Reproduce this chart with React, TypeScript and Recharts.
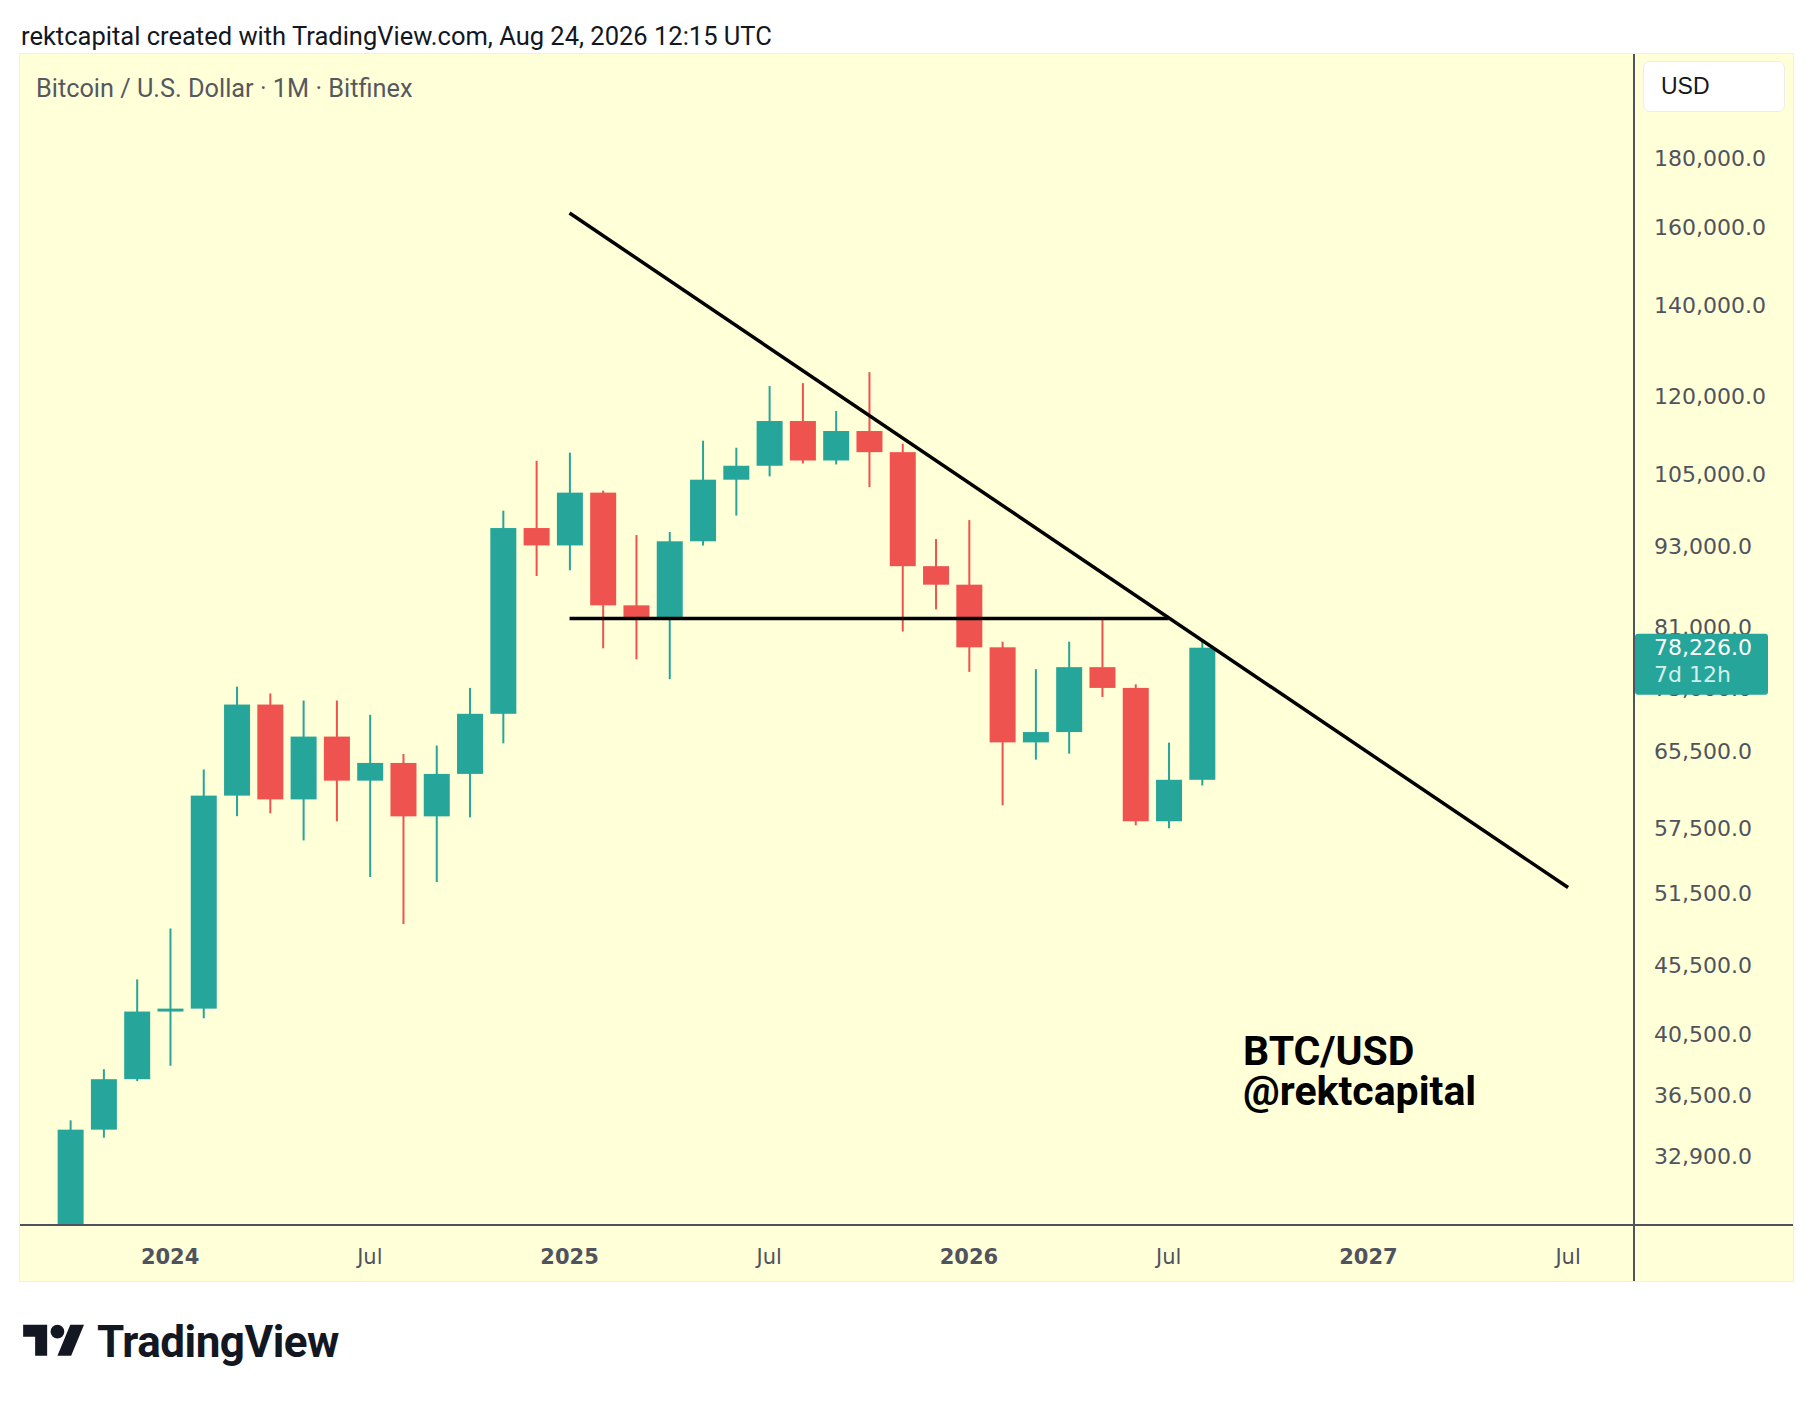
import React from 'react';
import { ComposedChart, Bar, XAxis, YAxis, ReferenceLine } from 'recharts';

// monthly candles, Oct 2023 .. Aug 2026 (Bitfinex BTC/USD)
const months = [
  'Oct 2023', 'Nov 2023', 'Dec 2023', 'Jan 2024', 'Feb 2024', 'Mar 2024', 'Apr 2024', 'May 2024',
  'Jun 2024', 'Jul 2024', 'Aug 2024', 'Sep 2024', 'Oct 2024', 'Nov 2024', 'Dec 2024', 'Jan 2025',
  'Feb 2025', 'Mar 2025', 'Apr 2025', 'May 2025', 'Jun 2025', 'Jul 2025', 'Aug 2025', 'Sep 2025',
  'Oct 2025', 'Nov 2025', 'Dec 2025', 'Jan 2026', 'Feb 2026', 'Mar 2026', 'Apr 2026', 'May 2026',
  'Jun 2026', 'Jul 2026', 'Aug 2026',
];
const opens = [
  26960, 34430, 37520, 42100, 42310, 60810, 71010, 60420, 67240, 62380, 64290, 58700,
  63100, 69900, 95910, 93110, 101870, 84080, 82080, 93770, 104140, 106640, 115080, 107600,
  113140, 109140, 89880, 87090, 78280, 66580, 67760, 75680, 73050, 58210, 62470,
];
const highs = [
  34980, 38160, 44470, 48500, 63580, 73210, 72360, 71500, 71500, 69780, 65270, 66220,
  73050, 98790, 107540, 109050, 102220, 94770, 95260, 111290, 109960, 122140, 122760, 117050,
  125070, 110730, 94130, 97220, 79030, 75420, 79030, 82340, 73500, 66550, 79200,
];
const lows = [
  26530, 33960, 37400, 38390, 41620, 58720, 59000, 56340, 58200, 52940, 48860, 52490,
  58600, 66470, 88390, 89250, 78150, 76700, 74150, 93100, 97970, 104730, 107060, 106880,
  102820, 80410, 83500, 75070, 59810, 64650, 65310, 71930, 57810, 57520, 61870,
];
const closes = [
  34430, 37520, 42100, 42310, 60810, 71010, 60420, 67240, 62380, 64290, 58700, 63100,
  69900, 95910, 93110, 101870, 84080, 82080, 93770, 104140, 106640, 115080, 107600, 113140,
  109140, 89880, 87090, 78280, 66580, 67760, 75680, 73050, 58210, 62470, 78226,
];

const yTicks = [32900, 36500, 40500, 45500, 51500, 57500, 65500, 73000, 81000, 93000, 105000, 120000, 140000, 160000, 180000];
// month index from Oct 2023
const xTicks = [3, 9, 15, 21, 27, 33, 39, 45];
const xTickLabels = ['2024', 'Jul', '2025', 'Jul', '2026', 'Jul', '2027', 'Jul'];

// drawn lines: [month index, price]
const trendLine = [{ x: 15, y: 164000 }, { x: 45, y: 52000 }];
const supportLine = [{ x: 15, y: 82200 }, { x: 33, y: 82200 }];
const lastPrice = 78226;
const countdown = '7d 12h';

const GREEN = '#26A69A';
const RED = '#EF5350';
const AXIS = '#50535E';
const BG = '#FFFFD8';

const data = months.map((m, i) => ({
  t: i,
  month: m,
  open: opens[i],
  high: highs[i],
  low: lows[i],
  close: closes[i],
  range: [lows[i], highs[i]],
}));

const fmtPrice = (v: number) => v.toLocaleString('en-US', { minimumFractionDigits: 1, maximumFractionDigits: 1 });

const Candle = (props: any) => {
  const { x, y, width, height, payload } = props;
  if (!payload || !isFinite(y) || !isFinite(height)) return null;
  const { open, close, high, low } = payload;
  const top = Math.min(y, y + height);
  const h = Math.abs(height);
  const span = Math.log(high) - Math.log(low);
  const py = (v: number) => top + (h * (Math.log(high) - Math.log(v))) / span;
  const up = close >= open;
  const color = up ? GREEN : RED;
  const bTop = py(Math.max(open, close));
  const bBot = py(Math.min(open, close));
  const cx = x + width / 2;
  return (
    <g>
      <rect x={cx - 1} y={top} width={2} height={h} fill={color} />
      <rect x={x} y={bTop} width={width} height={Math.max(bBot - bTop, 2)} fill={color} />
    </g>
  );
};

const XTick = (props: any) => {
  const { x, y, payload } = props;
  const i = xTicks.indexOf(payload.value);
  const label = xTickLabels[i];
  const isYear = label !== 'Jul';
  return (
    <text
      x={x}
      y={y + 30}
      textAnchor="middle"
      dominantBaseline="central"
      fill={AXIS}
      fontFamily="DejaVu Sans"
      fontSize={21}
      fontWeight={isYear ? 700 : 400}
    >
      {label}
    </text>
  );
};

// price labels; the last tick is the live price badge so it is painted over the others
const YTick = (props: any) => {
  const { x, y, payload } = props;
  const v = payload.value;
  if (v === lastPrice) {
    const x0 = x - 19;
    return (
      <g>
        <rect x={x0} y={y - 14} width={133} height={61} rx={3} fill={GREEN} />
        <text x={x0 + 19} y={y} dominantBaseline="central" fill="#fff" fontFamily="DejaVu Sans" fontSize={22}>
          {fmtPrice(lastPrice)}
        </text>
        <text x={x0 + 19} y={y + 27} dominantBaseline="central" fill="#d2efeb" fontFamily="DejaVu Sans" fontSize={22}>
          {countdown}
        </text>
      </g>
    );
  }
  return (
    <text x={x} y={y} dominantBaseline="central" fill={AXIS} fontFamily="DejaVu Sans" fontSize={22}>
      {fmtPrice(v)}
    </text>
  );
};

const App: React.FC = () => {
  return (
    <div style={{ position: 'absolute', left: 0, top: 0, width: 1814, height: 1402, background: '#fff', overflow: 'hidden' }}>
      <div style={{ position: 'absolute', left: 21, top: 21, fontFamily: 'Roboto', fontSize: 25.5, lineHeight: '30px', color: '#131722' }}>
        rektcapital created with TradingView.com, Aug 24, 2026 12:15 UTC
      </div>

      <div style={{ position: 'absolute', left: 19, top: 53, width: 1775, height: 1229, background: BG, border: '1px solid #eeeeea', boxSizing: 'border-box' }} />

      <div style={{ position: 'absolute', left: 20, top: 54 }}>
        <ComposedChart width={1773} height={1227} data={data} margin={{ top: 0, right: 0, bottom: 0, left: 0 }}>
          <XAxis
            dataKey="t"
            type="number"
            domain={[-1.51, 46.98]}
            allowDataOverflow
            ticks={xTicks}
            interval={0}
            axisLine={false}
            tickLine={false}
            tickSize={0}
            height={56}
            tick={<XTick />}
          />
          <YAxis
            orientation="right"
            scale="log"
            domain={[29270, 215000]}
            allowDataOverflow
            ticks={[...yTicks, lastPrice]}
            interval={0}
            width={159}
            axisLine={false}
            tickLine={false}
            tickSize={0}
            tickMargin={20}
            tick={<YTick />}
          />
          <Bar dataKey="range" barSize={26} shape={Candle} isAnimationActive={false} />
          <ReferenceLine segment={trendLine} stroke="#000" strokeWidth={3.5} ifOverflow="visible" />
          <ReferenceLine segment={supportLine} stroke="#000" strokeWidth={3.5} ifOverflow="visible" />
        </ComposedChart>
      </div>

      {/* pane borders */}
      <div style={{ position: 'absolute', left: 20, top: 1224, width: 1773, height: 2, background: AXIS }} />
      <div style={{ position: 'absolute', left: 1633, top: 54, width: 2, height: 1227, background: AXIS }} />

      <div style={{ position: 'absolute', left: 36, top: 75, fontFamily: 'Roboto', fontSize: 25.3, lineHeight: '28px', color: '#55585F' }}>
        Bitcoin / U.S. Dollar · 1M · Bitfinex
      </div>

      <div
        style={{
          position: 'absolute', left: 1643, top: 61, width: 142, height: 51, background: '#fff',
          borderRadius: 7, border: '1px solid #ececec', boxSizing: 'border-box',
          fontFamily: 'Liberation Sans', fontSize: 23, lineHeight: '49px', paddingLeft: 17, color: '#131722',
        }}
      >
        USD
      </div>

      <div style={{ position: 'absolute', left: 1243, top: 1031, fontFamily: 'Roboto', fontWeight: 700, fontSize: 41, lineHeight: '40px', height: 40, color: '#000' }}>
        BTC/USD
      </div>
      <div style={{ position: 'absolute', left: 1243, top: 1071, fontFamily: 'Roboto', fontWeight: 700, fontSize: 41, lineHeight: '40px', height: 40, color: '#000' }}>
        @rektcapital
      </div>

      <div style={{ position: 'absolute', left: 23, top: 1318, display: 'flex', alignItems: 'center' }}>
        <svg width={62} height={48} viewBox="0 0 36 28">
          <path d="M14 22H7V11H0V4h14v18zM28 22h-8l7.5-18h8L28 22z" fill="#131722" />
          <circle cx={20} cy={8} r={4} fill="#131722" />
        </svg>
        <span style={{ marginLeft: 12, fontFamily: 'Roboto', fontWeight: 700, fontSize: 44, letterSpacing: -0.5, color: '#131722', lineHeight: '48px' }}>
          TradingView
        </span>
      </div>
    </div>
  );
};

export default App;
